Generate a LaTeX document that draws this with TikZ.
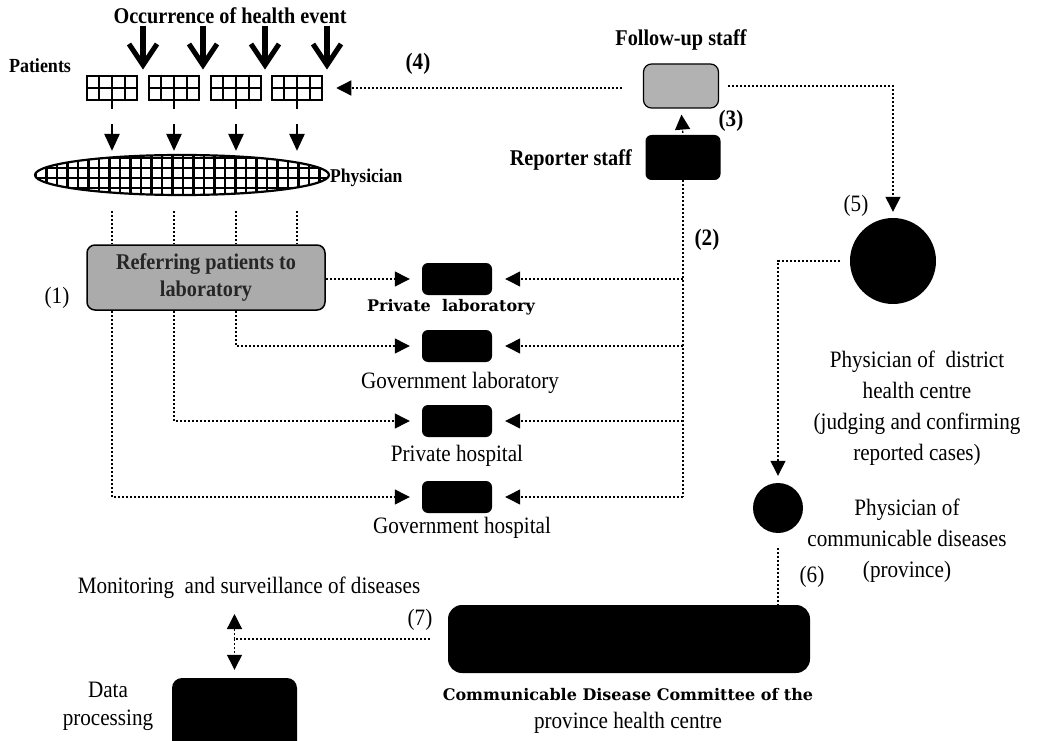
\documentclass[tikz,border=0pt]{standalone}
\usepackage{fontspec}
\setmainfont[FakeStretch=0.9]{Liberation Serif}
\newfontfamily\cent{DejaVu Serif}
\usetikzlibrary{arrows.meta,calc,shapes.geometric}
\newcommand\fsA{\fontsize{23.5}{31}\selectfont}
\newcommand\fsB{\fontsize{22.5}{27}\selectfont}
\begin{document}
\begin{tikzpicture}[x=1pt,y=-1pt,
  dotline/.style={line width=1.3pt, dash pattern=on 2.2pt off 1.8pt},
  tri/.style={-{Triangle[length=15pt,width=15pt]}},
  blkbox/.style={fill=black, rounded corners=6pt, inner sep=0pt},
  graybox/.style={fill=gray!62, draw=black, line width=1.5pt, rounded corners=8pt, inner sep=0pt},
  patbox/.style={draw, fill=white, line width=2.5pt, minimum width=50pt, minimum height=24pt, inner sep=0pt},
  lbl/.style={font=\fsA, inner sep=0pt, align=center},
  blbl/.style={font=\fsB\bfseries, inner sep=0pt, align=center},
  clbl/.style={font=\cent\bfseries\fontsize{16}{28}\selectfont, inner sep=0pt, align=center}
]
\useasboundingbox (0,0) rectangle (1037,741);
\clip (0,0) rectangle (1037,741);
\fill[white] (0,0) rectangle (1037,741);

% ---- top: event and patients
\node[blbl] (occ) at (230,16) {Occurrence of health event};
\foreach \x in {143,203,265,327} {
  \draw[line width=5.5pt] (\x,26) -- (\x,63);
  \draw[line width=5pt, line join=miter, miter limit=10] (\x-14,44) -- (\x,65) -- (\x+14,44);
}
\node[blbl, font=\fontsize{20}{24}\selectfont\bfseries] (pat) at (40,66) {Patients};
\foreach \n/\x in {1/112,2/174,3/236,4/297} {
  \node[patbox] (p\n) at (\x,88) {};
  \foreach \f in {0.25,0.5,0.75}
    \draw[line width=2.2pt] ($(p\n.north west)!\f!(p\n.north east)$) -- ($(p\n.south west)!\f!(p\n.south east)$);
  \draw[line width=2.2pt] (p\n.west) -- (p\n.east);
}

% ---- physician ellipse
\begin{scope}
  \clip (182,175) ellipse [x radius=147pt, y radius=20pt];
  \fill[white] (30,150) rectangle (335,200);
  \foreach \x in {36,46.5,...,330} \draw[line width=2.6pt] (\x,150) -- (\x,200);
  \foreach \y in {158,168,178,188} \draw[line width=2.6pt] (30,\y) -- (335,\y);
\end{scope}
\node[ellipse, draw, line width=2.2pt, minimum width=294pt, minimum height=40pt, inner sep=0pt] (ell) at (182,175) {};
\node[blbl, font=\fontsize{19.5}{22}\selectfont\bfseries, anchor=west] (phy) at (330,178) {Physician};
\foreach \n in {1,2,3,4}
  \draw[line width=2.5pt, dash pattern=on 8pt off 15pt on 30pt, -{Triangle[length=17pt,width=15pt]}, shorten >=3pt]
    (p\n.south) -- (p\n.south |- ell.north);

% ---- referring box
\node[graybox, fill=gray!66, minimum width=238pt, minimum height=65pt, font=\fsB\bfseries, text=black!85, align=center] (ref) at (206,277.5) {Referring patients to\\laboratory};
\node[lbl] (n1) at (57,298) {(1)};
\foreach \n in {1,2,3,4}
  \draw[dotline] ([yshift=-15pt]ell.south -| p\n.south) -- (ref.north -| p\n.south);

% ---- laboratories / hospitals
\node[blkbox, minimum width=70pt, minimum height=32pt] (pl) at (457,279) {};
\node[blkbox, minimum width=70pt, minimum height=32pt] (gl) at (457,346) {};
\node[blkbox, minimum width=70pt, minimum height=32pt] (ph) at (457,421) {};
\node[blkbox, minimum width=70pt, minimum height=32pt] (gh) at (457,497) {};
\node[clbl] (lpl) at (451,307) {Private\ \ laboratory};
\node[lbl] (lgl) at (460,383) {Government laboratory};
\node[lbl] (lph) at (457,456) {Private hospital};
\node[lbl] (lgh) at (462,528) {Government hospital};

\draw[dotline, tri, shorten >=12pt] (ref.east |- pl.west) -- (pl.west);
\draw[dotline, tri, shorten >=12pt] (ref.south -| p3.south) |- (gl.west);
\draw[dotline, tri, shorten >=12pt] (ref.south -| p2.south) |- (ph.west);
\draw[dotline, tri, shorten >=12pt] (ref.south -| p1.south) |- (gh.west);

% ---- staff
\node[blkbox, minimum width=75pt, minimum height=45pt] (rep) at (683,157.5) {};
\node[blbl, anchor=east] (lrep) at (632,160) {Reporter staff};
\node[graybox, fill=gray!60, minimum width=75pt, minimum height=44pt, line width=1.2pt] (fol) at (681,86) {};
\node[blbl] (lfol) at (681,40) {Follow-up staff};
\node[blbl, font=\fsA\bfseries] (n4) at (418,64) {(4)};
\node[blbl, font=\fsA\bfseries] (n3) at (731,121) {(3)};
\node[blbl, font=\fsA\bfseries] (n2) at (707,240) {(2)};

\draw[dotline] (rep.south) -- (rep.south |- gh.east);
\foreach \b in {pl,gl,ph,gh}
  \draw[dotline, tri, shorten >=13pt] (rep.south |- \b.east) -- (\b.east);
\draw[dotline, tri, shorten <=2pt, shorten >=6pt] (rep.north) -- (fol.south);
\draw[dotline, tri, shorten <=21pt, shorten >=13pt] (fol.west |- p4.east) -- (p4.east);

% ---- district physician
\node[circle, fill=black, minimum size=86pt, inner sep=0pt] (dc) at (893,261) {};
\node[lbl] (n5) at (856,206) {(5)};
\draw[dotline, tri, shorten <=9pt, shorten >=6pt] (fol.east) -| (dc.north);
\node[lbl] (ldc) at (917,408) {Physician of\ \ district\\health centre\\(judging and confirming\\reported cases)};

% ---- province physician
\node[circle, fill=black, minimum size=50pt, inner sep=0pt] (pc) at (778,508) {};
\draw[dotline, tri, shorten <=10pt, shorten >=7pt] (dc.west) -| (pc.north);
\node[lbl] (lpc) at (907,541) {Physician of\\communicable diseases\\(province)};

% ---- committee
\node[blkbox, rounded corners=14pt, minimum width=362pt, minimum height=68pt] (com) at (629,639) {};
\node[lbl] (n6) at (812,577) {(6)};
\draw[dotline, shorten <=15pt] (pc.south) -- (pc.south |- com.north);
\node[clbl] (lcom) at (628,695) {Communicable Disease Committee of the};
\node[lbl] (lcom2) at (628,723) {province health centre};

% ---- monitoring / data processing
\node[lbl] (mon) at (249,588) {Monitoring\ \ and surveillance of diseases};
\node[blkbox, rounded corners=10pt, minimum width=125pt, minimum height=80pt] (dp) at (234.5,718) {};
\node[lbl, font=\fontsize{23.5}{28}\selectfont] (ldp) at (108,706) {Data\\processing};
\node[lbl] (n7) at (420,620) {(7)};
\coordinate (j) at (dp.north |- com.west);
\draw[dotline, shorten <=18pt] (com.west) -- (j);
\draw[dotline, tri] (j) -- ([yshift=-15pt]j |- mon.south);
\draw[dotline, tri, shorten >=8pt] (j) -- (dp.north);
\end{tikzpicture}
\end{document}
